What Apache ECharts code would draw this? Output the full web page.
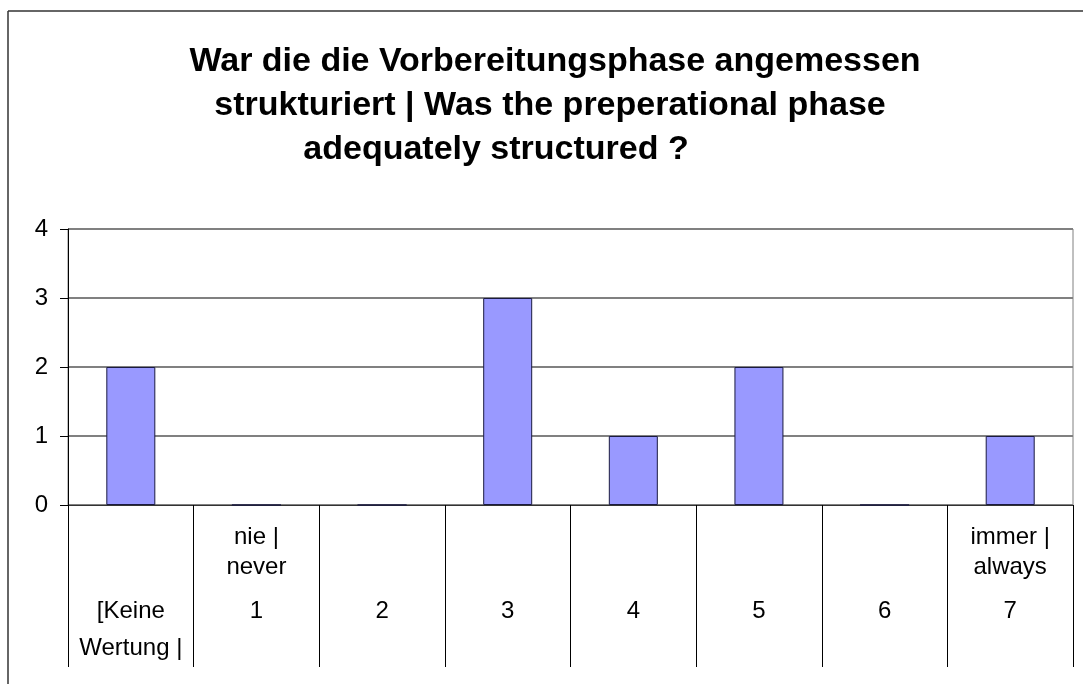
<!DOCTYPE html>
<html>
<head>
<meta charset="utf-8">
<script src="https://cdn.jsdelivr.net/npm/echarts@6/dist/echarts.min.js"></script>
<style>
  html, body { margin: 0; padding: 0; background: #fff; }
  #chart { width: 1083px; height: 684px; }
</style>
</head>
<body>
<div id="chart"></div>
<script>
const titleLines = [
  'War die die Vorbereitungsphase angemessen',
  'strukturiert | Was the preperational phase',
  'adequately structured ?'
];
const categories = ['[Keine Wertung |', '1', '2', '3', '4', '5', '6', '7'];
const scaleNotes = [[], ['nie |', 'never'], [], [], [], [], [], ['immer |', 'always']];
const counts = [2, 0, 0, 3, 1, 2, 0, 1];
const yMax = 4;

const font = '"Liberation Sans", Arial, sans-serif';
const titleX = [555, 550, 496];

const chart = echarts.init(document.getElementById('chart'));

// stacks the optional scale note above the category, long names break onto two lines
const catLabel = (value, idx) => {
  const note = scaleNotes[idx] || [];
  const sp = value.indexOf(' ');
  const main = sp > 0 ? value.slice(0, sp) : value;
  const tail = sp > 0 ? value.slice(sp + 1) : ' ';
  return '{a|' + (note[0] || ' ') + '}\n{a|' + (note[1] || ' ') + '}\n{b|' + main + '}\n{c|' + tail + '}';
};

const option = {
  animation: false,
  backgroundColor: '#fff',
  title: titleLines.map((t, i) => ({
    text: t,
    left: titleX[i],
    top: 44 + i * 44,
    textAlign: 'center',
    padding: 0,
    textStyle: { fontFamily: font, fontWeight: 'bold', fontSize: 34, color: '#000', lineHeight: 36 }
  })),
  grid: {
    left: 68, right: 10, top: 229, bottom: 179,
    show: true, borderColor: '#808080', borderWidth: 1
  },
  xAxis: {
    type: 'category',
    data: categories,
    axisLine: { lineStyle: { color: '#333', width: 1 } },
    axisTick: { show: true, length: 162, lineStyle: { color: '#000', width: 1 } },
    axisLabel: {
      interval: 0,
      margin: 17,
      formatter: catLabel,
      rich: {
        a: { fontFamily: font, fontSize: 24, color: '#000', lineHeight: 30 },
        b: { fontFamily: font, fontSize: 24, color: '#000', lineHeight: 58 },
        c: { fontFamily: font, fontSize: 24, color: '#000', lineHeight: 16 }
      }
    }
  },
  yAxis: {
    type: 'value',
    min: 0,
    max: yMax,
    interval: 1,
    axisLine: { show: true, lineStyle: { color: '#000', width: 1 } },
    axisTick: { show: true, length: 8, lineStyle: { color: '#000' } },
    axisLabel: { fontFamily: font, fontSize: 24, color: '#000', margin: 20 },
    splitLine: { show: true, lineStyle: { color: '#808080', width: 2 } }
  },
  series: [{
    type: 'bar',
    data: counts,
    barWidth: 49,
    itemStyle: { color: '#9999FF', borderColor: '#1a1a40', borderWidth: 1 }
  }],
  graphic: [
    { type: 'line', shape: { x1: 8, y1: 11, x2: 1083, y2: 11 }, style: { stroke: '#333', lineWidth: 1.5 } },
    { type: 'line', shape: { x1: 8, y1: 11, x2: 8, y2: 684 }, style: { stroke: '#333', lineWidth: 1.5 } }
  ]
};

chart.setOption(option);
window.addEventListener('resize', () => chart.resize());
</script>
</body>
</html>
